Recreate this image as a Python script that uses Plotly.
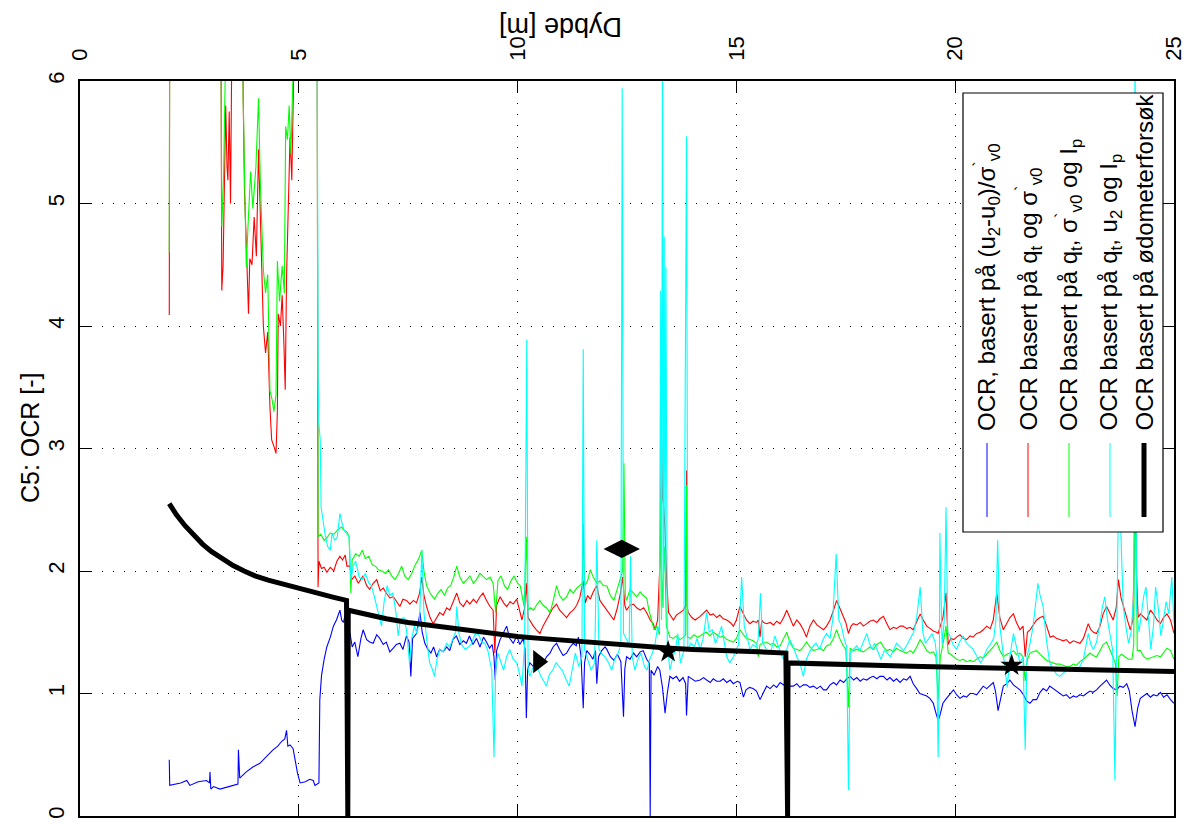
import plotly.graph_objects as go

# ---------------- data (depth [m], OCR [-]) ----------------
blue_pts = [(2.04,0.46),(2.05,0.25),(2.30,0.27),(2.44,0.29),(2.51,0.25),(2.70,0.28),(2.89,0.29),(2.96,0.27),(2.97,0.36),(2.99,0.22),
(3.05,0.24),(3.20,0.22),(3.40,0.24),(3.61,0.26),(3.62,0.54),(3.65,0.31),(3.80,0.36),(3.95,0.40),(4.11,0.43),(4.25,0.48),
(4.41,0.54),(4.52,0.57),(4.61,0.61),(4.68,0.63),(4.72,0.70),(4.75,0.57),(4.80,0.58),(4.87,0.55),(4.92,0.45),(4.97,0.35),
(5.03,0.27),(5.15,0.28),(5.25,0.30),(5.33,0.29),(5.37,0.25),(5.46,0.27),(5.48,0.95),(5.52,1.15),(5.58,1.28),(5.64,1.38),
(5.72,1.46),(5.79,1.55),(5.86,1.60),(5.94,1.68),(5.98,1.60),(6.02,1.58),(6.06,1.64),(6.10,1.60),(6.17,1.49),(6.22,1.38),
(6.28,1.42),(6.35,1.30),(6.42,1.45),(6.47,1.52),(6.55,1.44),(6.62,1.42),(6.70,1.41),(6.78,1.48),(6.85,1.45),(6.93,1.40),
(7.00,1.42),(7.08,1.34),(7.16,1.37),(7.23,1.40),(7.31,1.41),(7.38,1.36),(7.46,1.47),(7.52,1.42),(7.56,1.14),(7.60,1.45),
(7.69,1.49),(7.77,1.66),(7.82,1.50),(7.88,1.41),(7.95,1.36),(8.02,1.33),(8.08,1.38),(8.15,1.30),(8.22,1.36),(8.30,1.34),
(8.38,1.38),(8.45,1.35),(8.52,1.44),(8.60,1.47),(8.68,1.40),(8.76,1.43),(8.83,1.41),(8.90,1.47),(8.98,1.40),(9.06,1.45),
(9.14,1.38),(9.22,1.46),(9.29,1.42),(9.36,1.37),(9.42,1.40),(9.46,1.30),(9.49,1.11),(9.52,1.35),(9.60,1.44),(9.68,1.50),
(9.75,1.55),(9.82,1.45),(9.90,1.41),(9.98,1.47),(10.05,1.40),(10.13,1.45),(10.17,1.36),(10.20,0.80),(10.23,1.20),(10.28,1.25),
(10.36,1.22),(10.43,1.30),(10.51,1.27),(10.58,1.24),(10.66,1.30),(10.74,1.33),(10.81,1.38),(10.89,1.41),(10.96,1.36),(11.04,1.31),
(11.12,1.33),(11.20,1.38),(11.27,1.41),(11.34,1.39),(11.39,1.46),(11.45,1.30),(11.50,0.88),(11.53,1.25),(11.58,1.35),(11.65,1.32),
(11.72,1.28),(11.78,1.35),(11.81,1.08),(11.85,1.30),(11.92,1.35),(12.00,1.38),(12.04,1.36),(12.12,1.30),(12.20,1.27),(12.28,1.32),
(12.36,1.26),(12.42,0.81),(12.45,1.20),(12.49,1.30),(12.57,1.28),(12.65,1.33),(12.72,1.30),(12.80,1.34),(12.87,1.35),(12.95,1.28),
(13.01,1.25),(13.03,0.00),(13.05,1.19),(13.12,1.15),(13.20,1.22),(13.25,1.19),(13.31,1.05),(13.37,0.84),(13.42,1.00),(13.48,1.14),
(13.55,1.12),(13.63,1.14),(13.70,1.10),(13.78,1.13),(13.84,1.08),(13.86,0.82),(13.90,1.14),(13.98,1.12),(14.06,1.10),(14.17,1.11),
(14.25,1.13),(14.32,1.11),(14.40,1.09),(14.47,1.12),(14.55,1.10),(14.63,1.10),(14.70,1.12),(14.78,1.09),(14.86,1.11),(14.93,1.08),
(15.02,1.10),(15.08,1.09),(15.12,1.02),(15.16,0.97),(15.22,1.03),(15.30,1.05),(15.38,1.04),(15.46,1.02),(15.54,0.95),(15.60,1.00),
(15.69,1.06),(15.77,1.04),(15.85,1.07),(15.92,1.05),(16.00,1.09),(16.08,1.07),(16.15,1.10),(16.22,1.06),(16.30,1.06),(16.38,1.08),
(16.45,1.05),(16.53,1.07),(16.60,1.07),(16.68,1.05),(16.76,1.06),(16.84,1.04),(16.92,1.06),(16.99,1.03),(17.06,1.03),(17.14,1.07),
(17.22,1.09),(17.29,1.07),(17.37,1.11),(17.45,1.09),(17.52,1.12),(17.60,1.14),(17.68,1.11),(17.75,1.13),(17.83,1.10),(17.90,1.12),
(17.98,1.11),(18.06,1.13),(18.13,1.14),(18.21,1.12),(18.28,1.14),(18.36,1.14),(18.44,1.11),(18.51,1.13),(18.59,1.10),(18.66,1.12),
(18.74,1.09),(18.82,1.12),(18.89,1.11),(18.97,1.14),(19.04,1.08),(19.12,1.04),(19.19,1.00),(19.27,0.99),(19.35,0.98),(19.42,0.96),
(19.50,0.92),(19.56,0.84),(19.61,0.78),(19.65,0.82),(19.72,0.92),(19.80,0.96),(19.88,1.00),(19.96,1.03),(20.03,0.99),(20.11,0.96),
(20.19,0.98),(20.26,0.97),(20.34,1.00),(20.41,1.00),(20.49,0.99),(20.57,1.03),(20.64,1.06),(20.72,1.04),(20.80,1.07),(20.87,1.09),
(20.92,1.02),(20.98,0.86),(21.04,0.96),(21.10,1.06),(21.18,1.08),(21.25,1.11),(21.33,1.07),(21.40,1.05),(21.48,1.03),(21.56,0.99),
(21.63,0.94),(21.71,0.92),(21.78,0.95),(21.86,0.95),(21.94,1.01),(22.01,1.04),(22.09,1.02),(22.16,1.06),(22.24,1.04),(22.31,1.02),
(22.39,1.00),(22.47,0.98),(22.54,0.99),(22.62,0.96),(22.70,0.98),(22.77,0.97),(22.85,0.99),(22.93,0.98),(23.00,1.00),(23.08,1.02),
(23.15,1.01),(23.23,1.03),(23.31,1.06),(23.38,1.08),(23.46,1.11),(23.53,1.07),(23.61,1.04),(23.69,1.03),(23.76,1.06),(23.84,1.05),
(23.92,1.08),(23.98,1.02),(24.04,0.86),(24.11,0.73),(24.17,0.88),(24.23,0.96),(24.31,0.98),(24.38,1.00),(24.46,0.97),(24.53,0.99),
(24.61,0.98),(24.69,1.01),(24.76,0.97),(24.84,0.99),(24.92,0.95),(25.00,0.92)]

red_pts = [(2.04,4.09),(2.05,6.60),(3.22,6.60),(3.24,4.29),(3.27,4.50),(3.31,5.44),(3.33,5.80),(3.36,5.30),(3.38,5.19),(3.41,5.75),
(3.44,5.00),(3.47,6.30),(3.72,6.30),(3.73,5.85),(3.76,5.08),(3.80,4.68),(3.85,4.10),(3.88,4.55),(3.93,4.50),(3.98,4.89),
(4.03,4.57),(4.08,5.44),(4.12,4.90),(4.19,4.00),(4.24,3.78),(4.29,3.95),(4.34,3.34),(4.38,3.07),(4.43,3.02),(4.48,2.96),
(4.51,3.30),(4.53,4.10),(4.58,4.00),(4.62,4.25),(4.66,3.85),(4.69,3.48),(4.72,4.40),(4.76,5.10),(4.80,5.54),(4.84,5.19),
(4.87,5.90),(4.90,6.40),(5.42,6.40),(5.44,1.87),(5.46,2.08),(5.52,2.02),(5.58,2.03),(5.64,1.99),(5.72,2.03),(5.80,2.00),
(5.87,2.08),(5.94,2.12),(6.00,2.09),(6.06,2.13),(6.10,2.04),(6.17,2.04),(6.21,1.93),(6.28,1.96),(6.36,1.90),(6.47,1.96),
(6.55,1.88),(6.62,1.85),(6.70,1.90),(6.78,1.93),(6.86,1.84),(6.93,1.86),(7.00,1.82),(7.08,1.78),(7.16,1.79),(7.24,1.75),
(7.31,1.71),(7.38,1.77),(7.46,1.76),(7.54,1.73),(7.62,1.76),(7.69,1.74),(7.76,1.82),(7.81,1.95),(7.86,1.80),(7.92,1.71),
(8.00,1.62),(8.07,1.57),(8.15,1.62),(8.22,1.66),(8.30,1.64),(8.38,1.70),(8.45,1.68),(8.53,1.75),(8.61,1.82),(8.68,1.74),
(8.76,1.71),(8.84,1.76),(8.91,1.73),(8.99,1.77),(9.06,1.74),(9.14,1.79),(9.21,1.82),(9.29,1.76),(9.37,1.71),(9.44,1.68),
(9.48,1.33),(9.52,1.72),(9.60,1.79),(9.68,1.74),(9.75,1.71),(9.83,1.75),(9.90,1.73),(9.98,1.77),(10.05,1.68),(10.10,1.60),
(10.16,1.70),(10.20,1.90),(10.24,1.62),(10.30,1.58),(10.36,1.55),(10.43,1.52),(10.51,1.49),(10.58,1.55),(10.66,1.60),(10.74,1.66),
(10.81,1.70),(10.89,1.73),(10.96,1.68),(11.04,1.65),(11.12,1.62),(11.20,1.66),(11.27,1.68),(11.35,1.72),(11.42,1.78),(11.50,1.92),
(11.55,1.74),(11.60,1.80),(11.66,1.77),(11.73,1.83),(11.81,1.88),(11.88,1.76),(11.96,1.72),(12.04,1.68),(12.12,1.64),(12.20,1.60),
(12.28,1.70),(12.35,1.82),(12.40,1.95),(12.45,1.72),(12.49,1.68),(12.57,1.72),(12.65,1.73),(12.72,1.70),(12.80,1.68),(12.88,1.70),
(12.95,1.66),(13.03,1.60),(13.10,1.57),(13.14,1.52),(13.20,1.60),(13.25,2.04),(13.27,2.52),(13.29,3.12),(13.31,2.60),(13.34,2.52),
(13.37,2.33),(13.41,1.90),(13.45,1.66),(13.52,1.62),(13.56,1.60),(13.63,1.64),(13.71,1.66),(13.79,1.68),(13.84,1.72),(13.86,2.82),
(13.88,1.70),(13.90,1.66),(13.98,1.62),(14.06,1.60),(14.17,1.63),(14.25,1.66),(14.32,1.68),(14.40,1.64),(14.47,1.65),(14.55,1.62),
(14.62,1.64),(14.70,1.61),(14.78,1.60),(14.86,1.58),(14.93,1.55),(15.00,1.60),(15.08,1.71),(15.16,1.65),(15.23,1.60),(15.31,1.57),
(15.38,1.59),(15.46,1.58),(15.50,1.60),(15.54,1.46),(15.58,1.60),(15.62,1.58),(15.69,1.57),(15.77,1.58),(15.85,1.56),(15.92,1.59),
(16.00,1.57),(16.08,1.62),(16.15,1.68),(16.22,1.62),(16.30,1.55),(16.38,1.60),(16.45,1.57),(16.53,1.52),(16.60,1.46),(16.68,1.55),
(16.76,1.60),(16.84,1.56),(16.91,1.54),(16.99,1.52),(17.06,1.55),(17.14,1.60),(17.22,1.68),(17.29,1.76),(17.36,1.70),(17.44,1.63),
(17.50,1.58),(17.56,1.49),(17.62,1.55),(17.67,1.57),(17.75,1.56),(17.83,1.58),(17.90,1.55),(17.98,1.57),(18.05,1.59),(18.13,1.60),
(18.21,1.58),(18.28,1.61),(18.36,1.63),(18.44,1.57),(18.51,1.52),(18.59,1.54),(18.66,1.53),(18.74,1.55),(18.81,1.55),(18.89,1.53),
(18.97,1.54),(19.04,1.52),(19.12,1.58),(19.20,1.65),(19.27,1.60),(19.35,1.55),(19.43,1.53),(19.50,1.51),(19.57,1.50),(19.61,1.49),
(19.66,1.55),(19.72,1.62),(19.79,1.82),(19.84,1.40),(19.90,1.45),(19.97,1.44),(20.03,1.46),(20.11,1.48),(20.18,1.45),(20.26,1.44),
(20.34,1.47),(20.41,1.46),(20.49,1.49),(20.57,1.50),(20.64,1.52),(20.72,1.55),(20.80,1.53),(20.87,1.60),(20.95,1.82),(21.02,1.62),
(21.10,1.52),(21.18,1.58),(21.25,1.62),(21.33,1.65),(21.40,1.58),(21.48,1.52),(21.55,1.55),(21.60,1.30),(21.65,1.50),(21.71,1.52),
(21.78,1.56),(21.86,1.60),(21.94,1.62),(22.01,1.63),(22.09,1.55),(22.17,1.46),(22.24,1.47),(22.31,1.45),(22.39,1.44),(22.47,1.43),
(22.54,1.44),(22.62,1.41),(22.70,1.43),(22.77,1.42),(22.85,1.41),(22.93,1.45),(23.00,1.52),(23.04,1.57),(23.10,1.52),(23.16,1.50),
(23.23,1.49),(23.31,1.55),(23.38,1.65),(23.46,1.71),(23.53,1.66),(23.61,1.60),(23.68,1.70),(23.73,1.93),(23.79,1.78),(23.84,1.71),
(23.92,1.62),(24.00,1.52),(24.06,1.60),(24.10,2.30),(24.12,3.00),(24.14,2.00),(24.18,1.62),(24.23,1.65),(24.31,1.62),(24.38,1.60),
(24.46,1.68),(24.53,1.65),(24.61,1.60),(24.69,1.57),(24.76,1.62),(24.84,1.65),(24.92,1.60),(25.00,1.49)]

green_pts = [(2.04,4.60),(2.05,6.60),(3.22,6.60),(3.24,4.81),(3.28,5.20),(3.31,5.90),(3.34,6.50),(3.72,6.50),(3.73,5.85),(3.77,5.02),
(3.80,4.48),(3.85,4.90),(3.90,5.26),(3.95,4.96),(4.02,5.30),(4.08,5.86),(4.12,5.19),(4.19,4.46),(4.24,4.27),(4.29,4.42),
(4.34,3.47),(4.39,3.40),(4.43,3.30),(4.48,3.44),(4.51,4.53),(4.56,4.20),(4.62,4.49),(4.67,4.27),(4.70,5.63),(4.74,5.52),
(4.78,5.80),(4.82,5.40),(4.87,6.00),(4.90,6.50),(5.42,6.50),(5.44,2.28),(5.50,2.30),(5.58,2.25),(5.64,2.27),(5.72,2.31),
(5.80,2.30),(5.90,2.34),(5.98,2.36),(6.04,2.33),(6.10,2.32),(6.15,2.28),(6.19,1.82),(6.22,2.09),(6.30,2.14),(6.38,2.12),
(6.45,2.17),(6.52,2.10),(6.60,2.12),(6.68,2.05),(6.75,2.04),(6.82,2.01),(6.90,2.00),(6.98,1.98),(7.05,2.01),(7.12,1.96),
(7.20,1.93),(7.28,1.98),(7.35,2.04),(7.42,1.96),(7.50,1.93),(7.58,1.98),(7.66,2.05),(7.74,2.10),(7.81,2.17),(7.86,2.00),
(7.92,1.88),(8.00,1.82),(8.10,1.77),(8.18,1.82),(8.25,1.85),(8.33,1.80),(8.40,1.86),(8.47,1.88),(8.54,1.95),(8.61,2.04),
(8.68,1.95),(8.76,1.90),(8.84,1.93),(8.91,1.96),(8.99,1.90),(9.06,1.93),(9.14,1.98),(9.21,1.96),(9.29,1.93),(9.37,1.95),
(9.44,1.90),(9.50,1.66),(9.55,1.92),(9.62,1.96),(9.70,1.88),(9.77,1.85),(9.85,1.92),(9.92,1.96),(10.00,1.90),(10.06,1.88),
(10.15,1.71),(10.20,2.28),(10.24,1.68),(10.30,1.70),(10.36,1.68),(10.43,1.72),(10.51,1.76),(10.58,1.72),(10.66,1.70),(10.74,1.66),
(10.81,1.75),(10.89,1.88),(10.96,1.80),(11.04,1.76),(11.12,1.79),(11.20,1.85),(11.27,1.82),(11.35,1.86),(11.42,1.88),(11.48,1.90),
(11.50,2.39),(11.53,1.88),(11.60,1.92),(11.66,2.01),(11.73,1.95),(11.81,1.90),(11.88,1.92),(11.96,1.88),(12.04,1.88),(12.12,1.80),
(12.20,1.76),(12.28,1.85),(12.35,1.93),(12.40,2.00),(12.43,2.88),(12.46,1.80),(12.49,1.76),(12.57,1.85),(12.65,1.82),(12.72,1.79),
(12.80,1.83),(12.87,1.80),(12.95,1.78),(13.00,1.68),(13.06,1.60),(13.12,1.52),(13.18,1.55),(13.24,1.48),(13.27,2.60),(13.30,1.70),
(13.36,2.20),(13.40,1.55),(13.48,1.46),(13.56,1.45),(13.63,1.47),(13.71,1.44),(13.79,1.46),(13.84,1.48),(13.86,2.70),(13.88,1.46),
(13.95,1.45),(14.03,1.48),(14.10,1.46),(14.17,1.47),(14.25,1.49),(14.32,1.50),(14.40,1.47),(14.47,1.50),(14.55,1.48),(14.63,1.46),
(14.70,1.47),(14.78,1.44),(14.86,1.43),(14.93,1.42),(15.00,1.45),(15.08,1.52),(15.16,1.48),(15.23,1.45),(15.31,1.44),(15.38,1.43),
(15.46,1.41),(15.50,1.30),(15.54,1.40),(15.62,1.41),(15.69,1.42),(15.77,1.40),(15.85,1.41),(15.92,1.38),(16.00,1.39),(16.08,1.45),
(16.15,1.50),(16.22,1.42),(16.30,1.37),(16.38,1.36),(16.45,1.35),(16.53,1.38),(16.60,1.42),(16.68,1.38),(16.76,1.35),(16.84,1.36),
(16.91,1.37),(16.99,1.35),(17.06,1.39),(17.14,1.40),(17.22,1.45),(17.29,1.52),(17.36,1.45),(17.44,1.39),(17.50,1.36),(17.56,0.89),
(17.60,1.37),(17.67,1.35),(17.75,1.36),(17.83,1.35),(17.90,1.34),(17.98,1.36),(18.05,1.38),(18.13,1.36),(18.21,1.40),(18.30,1.42),
(18.36,1.38),(18.44,1.35),(18.51,1.36),(18.59,1.34),(18.66,1.37),(18.74,1.35),(18.81,1.34),(18.89,1.33),(18.97,1.35),(19.04,1.33),
(19.12,1.38),(19.20,1.44),(19.27,1.40),(19.35,1.35),(19.43,1.33),(19.50,1.34),(19.56,1.30),(19.61,0.95),(19.66,1.30),(19.72,1.40),
(19.79,1.55),(19.84,1.33),(19.90,1.32),(19.97,1.30),(20.03,1.28),(20.11,1.27),(20.18,1.28),(20.26,1.26),(20.34,1.27),(20.41,1.26),
(20.49,1.28),(20.57,1.30),(20.64,1.29),(20.72,1.32),(20.80,1.35),(20.87,1.38),(20.95,1.42),(21.02,1.35),(21.10,1.30),(21.18,1.32),
(21.25,1.33),(21.33,1.35),(21.40,1.32),(21.48,1.33),(21.55,1.30),(21.60,1.10),(21.65,1.28),(21.71,1.33),(21.78,1.34),(21.86,1.35),
(21.94,1.32),(22.01,1.30),(22.09,1.27),(22.17,1.26),(22.24,1.25),(22.31,1.24),(22.39,1.24),(22.47,1.23),(22.54,1.22),(22.62,1.22),
(22.70,1.24),(22.77,1.23),(22.85,1.26),(22.93,1.28),(23.00,1.30),(23.08,1.33),(23.15,1.31),(23.23,1.30),(23.31,1.35),(23.38,1.40),
(23.46,1.42),(23.53,1.36),(23.61,1.30),(23.66,1.25),(23.70,0.98),(23.74,1.30),(23.80,1.32),(23.88,1.30),(23.96,1.28),(24.04,1.28),
(24.08,1.40),(24.10,2.50),(24.12,3.10),(24.14,2.20),(24.16,1.35),(24.23,1.35),(24.31,1.30),(24.38,1.28),(24.46,1.29),(24.53,1.30),
(24.61,1.31),(24.69,1.30),(24.76,1.33),(24.84,1.37),(24.92,1.35),(25.00,1.28)]

cyan_pts = [(5.42,6.60),(5.44,3.60),(5.46,3.20),(5.49,3.07),(5.51,2.52),(5.55,2.42),(5.60,2.30),(5.66,2.20),(5.72,2.17),(5.76,2.31),
(5.82,2.25),(5.88,2.28),(5.94,2.47),(5.98,2.40),(6.04,2.33),(6.10,2.30),(6.15,2.28),(6.19,1.93),(6.24,2.04),(6.30,2.08),
(6.38,1.95),(6.45,1.93),(6.52,1.98),(6.60,1.90),(6.66,1.88),(6.72,1.80),(6.78,1.71),(6.84,1.62),(6.89,1.55),(6.95,1.75),
(7.02,1.88),(7.08,1.80),(7.15,1.82),(7.22,1.66),(7.27,1.47),(7.32,1.60),(7.40,1.62),(7.46,1.52),(7.53,1.25),(7.58,1.45),
(7.64,1.55),(7.70,1.49),(7.76,1.60),(7.81,2.17),(7.86,1.66),(7.92,1.45),(7.99,1.25),(8.05,1.20),(8.10,1.14),(8.16,1.28),
(8.22,1.36),(8.30,1.34),(8.38,1.41),(8.45,1.38),(8.52,1.45),(8.58,1.50),(8.61,1.71),(8.66,1.49),(8.72,1.40),(8.80,1.36),
(8.88,1.38),(8.95,1.41),(9.02,1.48),(9.10,1.49),(9.18,1.42),(9.25,1.41),(9.32,1.35),(9.41,1.19),(9.46,0.48),(9.50,1.20),
(9.55,1.33),(9.62,1.25),(9.68,1.19),(9.75,1.30),(9.82,1.36),(9.90,1.28),(9.98,1.25),(10.05,1.15),(10.10,1.06),(10.16,1.41),
(10.21,3.89),(10.24,1.20),(10.28,1.14),(10.34,1.20),(10.40,1.25),(10.47,1.20),(10.53,1.14),(10.60,1.10),(10.66,1.06),(10.72,1.15),
(10.80,1.19),(10.88,1.25),(10.95,1.22),(11.02,1.19),(11.10,1.12),(11.18,1.06),(11.25,1.20),(11.32,1.33),(11.40,1.22),(11.47,1.30),
(11.50,3.81),(11.53,1.36),(11.60,1.28),(11.68,1.19),(11.76,1.25),(11.81,2.25),(11.86,1.36),(11.93,1.32),(12.00,1.30),(12.08,1.25),
(12.15,1.19),(12.22,1.28),(12.30,1.33),(12.36,1.40),(12.39,5.94),(12.42,1.49),(12.48,1.45),(12.55,1.40),(12.58,2.12),(12.62,1.30),
(12.68,1.19),(12.75,1.28),(12.82,1.33),(12.90,1.22),(12.96,1.19),(13.02,1.28),(13.08,1.33),(13.14,1.40),(13.20,1.55),(13.24,1.50),
(13.27,4.29),(13.29,1.60),(13.31,6.60),(13.33,1.70),(13.35,4.73),(13.37,2.00),(13.39,4.48),(13.42,1.40),(13.48,1.19),(13.55,1.30),
(13.61,1.36),(13.66,1.49),(13.72,1.25),(13.80,1.35),(13.86,5.55),(13.89,1.36),(13.96,1.41),(14.04,1.38),(14.10,1.45),(14.17,1.36),
(14.24,1.45),(14.32,1.66),(14.38,1.50),(14.45,1.52),(14.52,1.41),(14.60,1.48),(14.66,1.55),(14.72,1.41),(14.78,1.30),(14.85,1.25),
(14.93,1.30),(15.00,1.36),(15.05,1.40),(15.12,1.95),(15.18,1.55),(15.25,1.45),(15.31,1.36),(15.38,1.40),(15.45,1.38),(15.50,1.45),
(15.55,1.82),(15.60,1.41),(15.66,1.38),(15.72,1.33),(15.80,1.36),(15.88,1.47),(15.95,1.40),(16.02,1.32),(16.08,1.28),(16.15,1.36),
(16.22,1.44),(16.30,1.38),(16.38,1.30),(16.45,1.25),(16.53,1.14),(16.60,1.28),(16.66,1.33),(16.74,1.38),(16.82,1.41),(16.90,1.36),
(16.98,1.44),(17.06,1.49),(17.14,1.45),(17.20,1.60),(17.28,2.14),(17.34,1.60),(17.40,1.55),(17.46,1.45),(17.52,1.38),(17.56,0.21),
(17.60,1.33),(17.67,1.36),(17.75,1.39),(17.82,1.35),(17.90,1.42),(17.98,1.49),(18.04,1.41),(18.10,1.36),(18.16,1.41),(18.24,1.33),
(18.30,1.28),(18.38,1.35),(18.45,1.33),(18.52,1.30),(18.60,1.37),(18.66,1.41),(18.74,1.38),(18.82,1.35),(18.90,1.40),(18.97,1.45),
(19.05,1.50),(19.12,1.62),(19.20,1.87),(19.26,1.50),(19.32,1.41),(19.40,1.45),(19.47,1.49),(19.54,1.42),(19.58,1.30),(19.61,0.48),
(19.64,1.35),(19.65,2.31),(19.70,1.40),(19.75,1.60),(19.79,2.52),(19.83,1.50),(19.88,1.47),(19.95,1.40),(20.03,1.36),(20.10,1.42),
(20.18,1.47),(20.26,1.41),(20.34,1.38),(20.41,1.36),(20.50,1.30),(20.58,1.25),(20.65,1.30),(20.72,1.36),(20.80,1.40),(20.88,1.45),
(20.93,1.60),(20.97,2.25),(21.02,1.55),(21.08,1.36),(21.14,1.20),(21.19,1.05),(21.25,1.30),(21.33,1.49),(21.40,1.38),(21.48,1.25),
(21.55,1.30),(21.60,0.54),(21.64,1.30),(21.71,1.41),(21.78,1.55),(21.84,1.75),(21.89,1.90),(21.94,1.80),(22.01,1.71),(22.08,1.45),
(22.16,1.25),(22.24,1.20),(22.31,1.16),(22.39,1.14),(22.47,1.17),(22.54,1.19),(22.62,1.19),(22.70,1.21),(22.77,1.20),(22.85,1.22),
(22.93,1.28),(23.00,1.40),(23.04,1.49),(23.10,1.40),(23.16,1.36),(23.23,1.42),(23.30,1.55),(23.36,1.70),(23.42,1.79),(23.48,1.60),
(23.55,1.47),(23.60,1.35),(23.65,0.29),(23.68,1.40),(23.72,2.30),(23.76,2.60),(23.80,2.10),(23.84,1.71),(23.90,1.55),(23.96,1.41),
(24.02,1.50),(24.08,1.80),(24.11,6.60),(24.14,1.70),(24.20,1.50),(24.25,1.65),(24.31,1.80),(24.36,1.87),(24.42,1.60),(24.47,1.36),
(24.53,1.55),(24.58,1.87),(24.64,1.70),(24.70,1.47),(24.76,1.60),(24.82,1.75),(24.88,1.65),(24.95,1.95),(25.00,1.57)]

oedo_pts = [(2.04,2.55),(2.20,2.46),(2.40,2.37),(2.60,2.29),(2.80,2.22),(3.00,2.16),(3.25,2.10),(3.50,2.045),(3.75,2.00),(4.00,1.96),
(4.30,1.925),(4.60,1.895),(4.90,1.87),(5.20,1.84),(5.50,1.81),(5.80,1.785),(6.09,1.76),(6.10,0.00),(6.12,0.00),(6.13,1.68),
(6.50,1.65),(7.00,1.61),(7.50,1.58),(8.00,1.555),(8.50,1.53),(9.00,1.505),(9.50,1.485),(10.00,1.465),(10.50,1.45),(11.00,1.435),
(11.50,1.42),(12.00,1.405),(12.50,1.39),(13.00,1.38),(13.50,1.37),(14.00,1.36),(14.50,1.35),(15.00,1.345),(15.50,1.34),(16.13,1.33),
(16.15,0.00),(16.17,0.00),(16.18,1.25),(17.00,1.24),(18.00,1.23),(19.00,1.222),(20.00,1.215),(21.00,1.208),(22.00,1.20),(23.00,1.195),
(24.00,1.188),(25.00,1.18)]

triangle_pt = (10.47, 1.26)
diamond_pt = (12.38, 2.18)
star_pts = [(13.44, 1.34), (21.29, 1.23)]

x_ticks = [0, 5, 10, 15, 20, 25]
y_ticks = [0, 1, 2, 3, 4, 5, 6]

legend_labels = [
    "OCR, basert på (u<sub>2</sub>-u<sub>0</sub>)/σ<sup>`</sup><sub>v0</sub>",
    "OCR basert på q<sub>t</sub> og σ<sup>`</sup><sub>v0</sub>",
    "OCR basert på q<sub>t</sub>, σ<sup>`</sup><sub>v0</sub> og I<sub>p</sub>",
    "OCR basert på q<sub>t</sub>, u<sub>2</sub> og I<sub>p</sub>",
    "OCR basert på ødometerforsøk",
]
legend_colors = ["#0000FF", "#FF0000", "#00FF00", "#00FFFF", "#000000"]
legend_widths = [1, 1, 1, 1, 5]

FONT = "Liberation Sans, Arial, Helvetica, sans-serif"

# ---------------- figure ----------------
fig = go.Figure()

def add_line(pts, color, width):
    xs = [p[0] for p in pts]
    ys = [p[1] for p in pts]
    fig.add_trace(go.Scatter(x=xs, y=ys, mode="lines",
                             line=dict(color=color, width=width),
                             showlegend=False, hoverinfo="skip"))

add_line(blue_pts, "#0000FF", 1.1)
add_line(red_pts, "#FF0000", 1.1)
add_line(green_pts, "#00FF00", 1.1)
add_line(cyan_pts, "#00FFFF", 1.1)
add_line(oedo_pts, "#000000", 5)

fig.add_trace(go.Scatter(x=[triangle_pt[0]], y=[triangle_pt[1]], mode="markers",
                         marker=dict(symbol="triangle-right", size=20, color="black"),
                         showlegend=False))
fig.add_trace(go.Scatter(x=[diamond_pt[0]], y=[diamond_pt[1]], mode="markers",
                         marker=dict(symbol="diamond-wide", size=26, color="black"),
                         showlegend=False))
fig.add_trace(go.Scatter(x=[p[0] for p in star_pts], y=[p[1] for p in star_pts], mode="markers",
                         marker=dict(symbol="star", size=17, color="black"),
                         showlegend=False))

# ---------------- layout ----------------
L, R, T, B = 80, 14, 81, 12
W, H = 1188, 828
pw, ph = W - L - R, H - T - B

def px_x(px):
    return (px - L) / pw

def px_y(py):
    return (H - B - py) / ph

grid_dash = "1px,10px"

fig.update_layout(
    width=W, height=H, autosize=False,
    margin=dict(l=L, r=R, t=T, b=B, pad=0, autoexpand=False),
    paper_bgcolor="white", plot_bgcolor="white",
    font=dict(family=FONT, size=21, color="black"),
    showlegend=False,
    xaxis=dict(range=[0, 25], side="top", tickvals=x_ticks, ticktext=[str(v) for v in x_ticks],
               tickangle=-90, ticks="inside", ticklen=12, tickwidth=1.2, tickcolor="black",
               showline=True, linecolor="black", linewidth=1.5, mirror="ticks",
               showgrid=True, gridcolor="black", gridwidth=1, griddash=grid_dash,
               zeroline=False, ticklabelstandoff=14, tickfont=dict(size=22), automargin=False),
    yaxis=dict(range=[0, 6], tickvals=y_ticks, ticktext=[str(v) for v in y_ticks],
               tickangle=-90, ticks="inside", ticklen=12, tickwidth=1.2, tickcolor="black",
               showline=True, linecolor="black", linewidth=1.5, mirror="ticks",
               showgrid=True, gridcolor="black", gridwidth=1, griddash=grid_dash,
               zeroline=False, ticklabelstandoff=5, tickfont=dict(size=22), automargin=False),
)

annotations = [
    dict(text="Dybde [m]", xref="paper", yref="paper", x=px_x(561), y=px_y(27),
         textangle=180, showarrow=False, font=dict(size=27, family=FONT),
         xanchor="center", yanchor="middle"),
    dict(text="C5: OCR [-]", xref="paper", yref="paper", x=px_x(30), y=px_y(438),
         textangle=-90, showarrow=False, font=dict(size=25, family=FONT),
         xanchor="center", yanchor="middle"),
]

shapes = []
# legend box
lx0, lx1, ly0, ly1 = 963, 1163, 93, 532
shapes.append(dict(type="rect", xref="paper", yref="paper",
                   x0=px_x(lx0), x1=px_x(lx1), y0=px_y(ly1), y1=px_y(ly0),
                   fillcolor="white", line=dict(color="black", width=1.2), layer="above"))
entry_x = [987, 1028, 1069, 1110, 1144]
for ex, lab, col, wd in zip(entry_x, legend_labels, legend_colors, legend_widths):
    shapes.append(dict(type="line", xref="paper", yref="paper",
                       x0=px_x(ex), x1=px_x(ex), y0=px_y(517), y1=px_y(443),
                       line=dict(color=col, width=wd), layer="above"))
    annotations.append(dict(text=lab, xref="paper", yref="paper", x=px_x(ex), y=px_y(433),
                            textangle=-90, showarrow=False, font=dict(size=24, family=FONT),
                            xanchor="center", yanchor="bottom"))

fig.update_layout(annotations=annotations, shapes=shapes)

fig.write_html("out.html",
               config={"displayModeBar": False},
               post_script="document.body.style.margin='0';document.body.style.overflow='hidden';")
